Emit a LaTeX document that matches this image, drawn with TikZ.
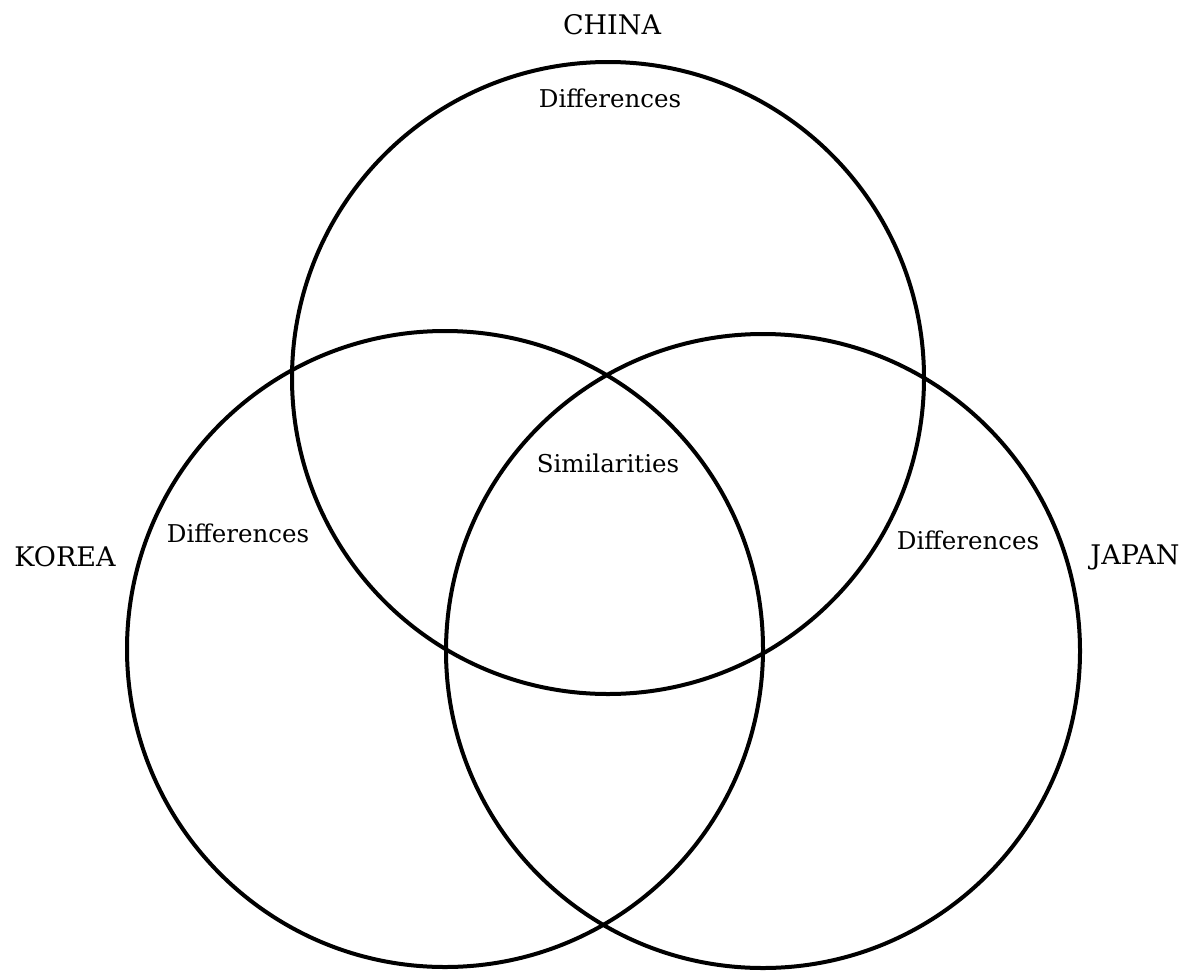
\documentclass[tikz,border=0pt]{standalone}
\usepackage{fontspec}
\setmainfont{DejaVu Serif}
\begin{document}
\begin{tikzpicture}[x=1pt,y=-1pt,
  ring/.style={draw=black,line width=4pt},
  big/.style={font=\fontsize{27}{31}\selectfont,inner sep=0pt},
  small/.style={font=\fontsize{24.5}{28}\selectfont,inner sep=0pt}]
\useasboundingbox (0,0) rectangle (1193,972);
\coordinate (cc) at (608,378);
\coordinate (ck) at (445,649);
\coordinate (cj) at (763,651);
\draw[ring] (cc) circle[radius=316];
\draw[ring] (ck) circle[radius=318];
\draw[ring] (cj) circle[radius=317];
\node[big] (china) at (612,25) {CHINA};
\node[big] (korea) at (65,557) {KOREA};
\node[big] (japan) at (1135,557) {JAPAN};
\node[small] (dc) at (610,98) {Differences};
\node[small] (dk) at (238,533) {Differences};
\node[small] (dj) at (968,540) {Differences};
\node[small] (sim) at (608,463) {Similarities};
\end{tikzpicture}
\end{document}
